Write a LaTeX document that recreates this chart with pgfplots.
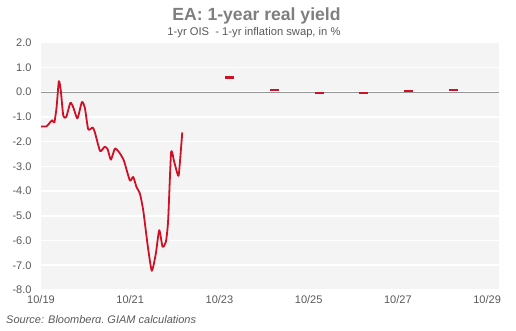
\documentclass[border=0pt]{standalone}
\usepackage{pgfplots}
\pgfplotsset{compat=1.18}
\usepackage{fontspec}
\setmainfont{Liberation Sans}
\definecolor{lineRed}{RGB}{206,17,38}
\definecolor{txtGray}{RGB}{89,89,89}
\definecolor{titleGray}{RGB}{127,127,127}
\definecolor{bgGray}{RGB}{244,244,244}
\definecolor{zeroGray}{RGB}{150,150,150}
\begin{document}
\begin{tikzpicture}[x=1pt,y=1pt]
\useasboundingbox (0,0) rectangle (516,331);
\begin{axis}[
  at={(41pt,41pt)}, anchor=south west,
  scale only axis, width=458pt, height=247.3pt,
  xmin=0, xmax=123.2, ymin=-8, ymax=2,
  axis background/.style={fill=bgGray},
  axis line style={draw=none},
  major tick length=0pt,
  ytick={-8,-7,...,2},
  xtick={0,24,48,72,96,120},
  xticklabels={10/19,10/21,10/23,10/25,10/27,10/29},
  ymajorgrids, grid style={white, line width=1.6pt},
  /pgf/number format/assume math mode=true,
  yticklabel style={/pgf/number format/fixed,/pgf/number format/fixed zerofill,/pgf/number format/precision=1, font=\fontsize{11}{13}\selectfont, text=txtGray, xshift=-6pt},
  xticklabel style={font=\fontsize{11}{13}\selectfont, text=txtGray, yshift=-2pt},
  clip=false,
]
\addplot[zeroGray, line width=0.9pt, forget plot] coordinates {(0,0) (123.2,0)};
\addplot[lineRed, line width=1.8pt, line join=round, smooth, tension=0.35] coordinates {
(0,-1.39) (1.5,-1.38) (2.4,-1.23) (3.0,-1.14) (3.6,-1.22) (4.2,-0.6) (4.8,0.44) (5.3,0.1) (6.0,-0.96) (6.8,-1.0)
(7.9,-0.43) (8.7,-0.62) (9.8,-1.06) (11.0,-0.40) (11.8,-0.63) (12.7,-1.5) (13.9,-1.43) (14.5,-1.63)
(15.9,-2.38) (17.1,-2.21) (17.9,-2.3) (18.8,-2.73) (19.9,-2.28) (21.1,-2.45) (22.3,-2.77)
(23.9,-3.57) (24.8,-3.43) (25.7,-3.84) (26.6,-4.1) (27.5,-4.78) (28.7,-6.2) (29.8,-7.22) (30.9,-6.52)
(31.8,-5.58) (32.7,-6.25) (33.6,-6.05) (34.2,-5.18) (35.0,-2.44) (35.8,-2.8) (36.7,-3.3) (37.1,-3.3) (38.0,-1.63)
};
\addplot[only marks, mark=-, mark size=4.5pt, mark options={lineRed, line width=2.4pt}] coordinates {
(50.7,0.59) (62.8,0.09) (74.8,-0.04) (86.8,-0.04) (98.8,0.05) (110.9,0.08)
};
\end{axis}
\node[anchor=base, text=titleGray, font=\fontsize{17.6}{20}\selectfont\bfseries] at (256.5,310.3) {EA: 1-year real yield};
\node[anchor=base, text=txtGray, font=\fontsize{11.2}{13}\selectfont] at (254,295) {1-yr OIS\ \ - 1-yr inflation swap, in \%};
\node[anchor=base west, inner sep=0pt, text=txtGray, font=\fontsize{11}{13}\selectfont\itshape] at (6,7) {Source: Bloomberg, GIAM calculations};
\fill[white] (0,0) rectangle (516,8);
\end{tikzpicture}
\end{document}
